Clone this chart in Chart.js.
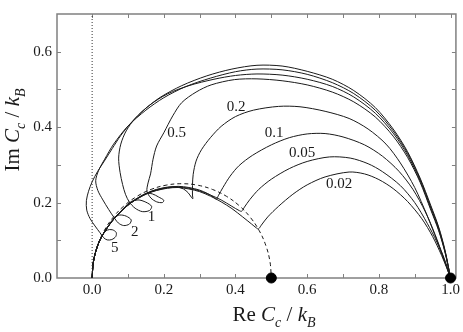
<!DOCTYPE html>
<html>
<head>
<meta charset="utf-8">
<script src="https://cdn.jsdelivr.net/npm/chart.js@4.4.0/dist/chart.umd.min.js"></script>
<style>
  html, body { margin: 0; padding: 0; background: #fff; }
  canvas { display: block; }
</style>
</head>
<body>
<canvas id="ccChart" width="463" height="332"></canvas>
<script>
// ----------------- Data -----------------
const xTickValues = [0.0, 0.2, 0.4, 0.6, 0.8, 1.0];
const yTickValues = [0.0, 0.2, 0.4, 0.6];
const xTickMarks = [0.0, 0.1, 0.2, 0.3, 0.4, 0.5, 0.6, 0.7, 0.8, 0.9, 1.0];
const yTickMarks = [0.1, 0.2, 0.3, 0.4, 0.5, 0.6];

const curveNames = ['5', '2', '1', '0.5', '0.2', '0.1', '0.05', '0.02'];

const curve5 = [[0,0],[0.003,0.04],[0.01,0.07],[0.02,0.097],[0.03,0.116],[0.042,0.127],[0.056,0.128],[0.067,0.121],[0.066,0.11],[0.055,0.102],[0.042,0.101],[0.032,0.107],[0.022,0.12],[0.008,0.138],[-0.006,0.158],[-0.015,0.18],[-0.016,0.205],[-0.01,0.23],[0.0,0.255],[0.015,0.282],[0.034,0.31],[0.056,0.343],[0.08,0.378],[0.11,0.413],[0.145,0.446],[0.19,0.479],[0.25,0.51],[0.32,0.536],[0.39,0.554],[0.46,0.564],[0.53,0.562],[0.6,0.548],[0.67,0.527],[0.73,0.497],[0.79,0.452],[0.84,0.395],[0.88,0.335],[0.915,0.265],[0.945,0.192],[0.967,0.135],[0.985,0.072],[1,0]];
const curve2 = [[0,0],[0.003,0.04],[0.01,0.07],[0.02,0.097],[0.033,0.12],[0.048,0.142],[0.062,0.16],[0.077,0.167],[0.095,0.164],[0.109,0.154],[0.104,0.143],[0.088,0.139],[0.073,0.146],[0.06,0.162],[0.046,0.182],[0.03,0.207],[0.016,0.232],[0.01,0.258],[0.018,0.285],[0.035,0.315],[0.06,0.355],[0.1,0.403],[0.15,0.445],[0.2,0.478],[0.26,0.507],[0.33,0.53],[0.4,0.547],[0.46,0.554],[0.53,0.552],[0.6,0.54],[0.67,0.518],[0.73,0.489],[0.79,0.445],[0.84,0.39],[0.88,0.331],[0.915,0.262],[0.945,0.188],[0.967,0.132],[0.985,0.07],[1,0]];
const curve1 = [[0,0],[0.003,0.04],[0.01,0.07],[0.02,0.097],[0.035,0.123],[0.055,0.15],[0.08,0.177],[0.105,0.2],[0.128,0.207],[0.15,0.201],[0.166,0.19],[0.16,0.179],[0.14,0.176],[0.12,0.185],[0.104,0.201],[0.093,0.222],[0.085,0.248],[0.078,0.28],[0.074,0.318],[0.08,0.355],[0.095,0.39],[0.12,0.423],[0.16,0.458],[0.21,0.488],[0.27,0.51],[0.34,0.527],[0.4,0.537],[0.46,0.541],[0.53,0.538],[0.6,0.527],[0.67,0.508],[0.73,0.48],[0.79,0.437],[0.84,0.384],[0.88,0.326],[0.915,0.258],[0.945,0.184],[0.967,0.128],[0.985,0.068],[1,0]];
const curve05 = [[0,0],[0.003,0.04],[0.01,0.07],[0.02,0.097],[0.035,0.123],[0.055,0.15],[0.08,0.177],[0.105,0.199],[0.13,0.214],[0.15,0.224],[0.168,0.223],[0.185,0.215],[0.2,0.206],[0.196,0.2],[0.18,0.202],[0.164,0.212],[0.153,0.23],[0.156,0.252],[0.163,0.276],[0.17,0.315],[0.18,0.35],[0.2,0.385],[0.225,0.43],[0.25,0.465],[0.29,0.493],[0.332,0.512],[0.397,0.526],[0.46,0.528],[0.53,0.523],[0.6,0.512],[0.67,0.493],[0.73,0.467],[0.79,0.427],[0.84,0.376],[0.88,0.32],[0.915,0.254],[0.945,0.18],[0.967,0.125],[0.985,0.066],[1,0]];
const curve02 = [[0,0],[0.003,0.04],[0.01,0.07],[0.02,0.097],[0.035,0.123],[0.055,0.15],[0.08,0.176],[0.105,0.197],[0.13,0.213],[0.155,0.226],[0.18,0.235],[0.21,0.241],[0.235,0.242],[0.255,0.236],[0.268,0.226],[0.277,0.214],[0.281,0.21],[0.28,0.22],[0.28,0.245],[0.282,0.275],[0.29,0.31],[0.305,0.34],[0.33,0.372],[0.36,0.402],[0.4,0.428],[0.45,0.445],[0.52,0.455],[0.58,0.454],[0.65,0.442],[0.717,0.423],[0.77,0.395],[0.82,0.355],[0.86,0.305],[0.9,0.24],[0.935,0.165],[0.962,0.1],[0.985,0.045],[1,0]];
const curve01 = [[0,0],[0.003,0.04],[0.01,0.07],[0.02,0.097],[0.035,0.123],[0.055,0.15],[0.08,0.176],[0.105,0.197],[0.13,0.213],[0.155,0.226],[0.18,0.234],[0.21,0.24],[0.24,0.243],[0.27,0.24],[0.3,0.233],[0.322,0.224],[0.338,0.215],[0.347,0.209],[0.352,0.218],[0.365,0.24],[0.385,0.27],[0.41,0.298],[0.447,0.325],[0.5,0.353],[0.55,0.372],[0.6,0.382],[0.65,0.383],[0.7,0.374],[0.76,0.353],[0.81,0.323],[0.856,0.283],[0.895,0.235],[0.93,0.175],[0.957,0.115],[0.978,0.06],[1,0]];
const curve005 = [[0,0],[0.003,0.04],[0.01,0.07],[0.02,0.097],[0.035,0.123],[0.055,0.15],[0.08,0.176],[0.105,0.197],[0.13,0.213],[0.155,0.225],[0.18,0.233],[0.21,0.239],[0.24,0.241],[0.27,0.238],[0.3,0.231],[0.33,0.22],[0.36,0.207],[0.39,0.19],[0.41,0.179],[0.417,0.177],[0.425,0.188],[0.44,0.208],[0.465,0.235],[0.5,0.262],[0.55,0.29],[0.6,0.309],[0.662,0.321],[0.72,0.318],[0.77,0.303],[0.81,0.282],[0.86,0.245],[0.9,0.2],[0.935,0.145],[0.962,0.095],[0.985,0.04],[1,0]];
const curve002 = [[0,0],[0.003,0.04],[0.01,0.07],[0.02,0.097],[0.035,0.123],[0.055,0.15],[0.08,0.176],[0.105,0.197],[0.13,0.212],[0.155,0.224],[0.18,0.232],[0.21,0.238],[0.24,0.24],[0.27,0.236],[0.3,0.229],[0.33,0.217],[0.36,0.202],[0.39,0.184],[0.42,0.162],[0.445,0.143],[0.458,0.133],[0.464,0.13],[0.472,0.14],[0.49,0.162],[0.52,0.19],[0.56,0.222],[0.6,0.247],[0.65,0.268],[0.717,0.281],[0.76,0.276],[0.8,0.261],[0.84,0.237],[0.88,0.203],[0.92,0.157],[0.95,0.11],[0.975,0.06],[0.99,0.025],[1,0]];

// small Debye semicircle (dashed) and its end points
const semicircle = [[0,0],[0.0038,0.0434],[0.0151,0.0855],[0.0335,0.125],[0.0585,0.1607],[0.0893,0.1915],[0.125,0.2165],[0.1645,0.2349],[0.2066,0.2462],[0.25,0.25],[0.2934,0.2462],[0.3355,0.2349],[0.375,0.2165],[0.4107,0.1915],[0.4415,0.1607],[0.4665,0.125],[0.4849,0.0855],[0.4962,0.0434],[0.5,0]];
const endPoints = [[0.5, 0], [1.0, 0]];
const zeroLine = [[0, 0], [0, 0.7]];

// where the curve values are written (data coords)
const labelSpots = [[0.063,0.08],[0.119,0.123],[0.166,0.161],[0.236,0.385],[0.402,0.454],[0.508,0.385],[0.586,0.332],[0.689,0.248]];

const allCurves = [curve5, curve2, curve1, curve05, curve02, curve01, curve005, curve002];

// ----------------- Helpers -----------------
const toXY = arr => arr.map(p => ({ x: p[0], y: p[1] }));
const SERIF = '"Liberation Serif", "DejaVu Serif", serif';
const INK = '#1a1a1a';
const FRAME = '#808080';

function drawRich(ctx, parts, big, small) {
  // parts: [text, italic, subscript]
  let w = 0;
  const widths = parts.map(p => {
    ctx.font = (p[1] ? 'italic ' : '') + (p[2] ? small : big) + 'px ' + SERIF;
    const m = ctx.measureText(p[0]).width;
    w += m;
    return m;
  });
  let x = -w / 2;
  parts.forEach((p, i) => {
    ctx.font = (p[1] ? 'italic ' : '') + (p[2] ? small : big) + 'px ' + SERIF;
    ctx.fillText(p[0], x, p[2] ? 6 : 0);
    x += widths[i];
  });
}

// ----------------- Plugins -----------------
const decorations = {
  id: 'decorations',
  beforeDatasetsDraw(chart) {
    const { ctx, chartArea: a, scales: { x, y } } = chart;
    ctx.save();
    // frame
    ctx.strokeStyle = FRAME;
    ctx.lineWidth = 1.5;
    ctx.strokeRect(a.left, a.top, a.right - a.left, a.bottom - a.top);
    // inward ticks on all sides
    ctx.lineWidth = 1;
    ctx.beginPath();
    xTickMarks.forEach(v => {
      const px = Math.round(x.getPixelForValue(v)) + 0.5;
      ctx.moveTo(px, a.bottom); ctx.lineTo(px, a.bottom - 4);
      ctx.moveTo(px, a.top); ctx.lineTo(px, a.top + 4);
    });
    yTickMarks.forEach(v => {
      const py = Math.round(y.getPixelForValue(v)) + 0.5;
      ctx.moveTo(a.left, py); ctx.lineTo(a.left + 4, py);
      ctx.moveTo(a.right, py); ctx.lineTo(a.right - 4, py);
    });
    ctx.stroke();
    ctx.restore();
  },
  afterDatasetsDraw(chart) {
    const { ctx, scales: { x, y } } = chart;
    ctx.save();
    ctx.fillStyle = INK;
    ctx.font = '15px ' + SERIF;
    ctx.textAlign = 'center';
    ctx.textBaseline = 'middle';
    curveNames.forEach((name, i) => {
      ctx.fillText(name, x.getPixelForValue(labelSpots[i][0]), y.getPixelForValue(labelSpots[i][1]));
    });

    // axis titles
    ctx.textBaseline = 'alphabetic';
    ctx.textAlign = 'left';
    ctx.save();
    ctx.translate(274, 321);
    drawRich(ctx, [['Re ', false, false], ['C', true, false], ['c', true, true], [' / ', false, false], ['k', true, false], ['B', true, true]], 21, 14);
    ctx.restore();
    ctx.save();
    ctx.translate(19, 130);
    ctx.rotate(-Math.PI / 2);
    drawRich(ctx, [['Im ', false, false], ['C', true, false], ['c', true, true], [' / ', false, false], ['k', true, false], ['B', true, true]], 21, 14);
    ctx.restore();
    ctx.restore();
  }
};

// ----------------- Chart Setup -----------------
const lineSets = allCurves.map((c, i) => ({
  label: curveNames[i],
  data: toXY(c),
  showLine: true,
  borderColor: INK,
  borderWidth: 1,
  pointRadius: 0,
  tension: 0.3,
  fill: false
}));

const ctx = document.getElementById('ccChart').getContext('2d');
const ccChart = new Chart(ctx, {
  type: 'scatter',
  data: {
    datasets: [
      {
        label: 'limits',
        data: toXY(endPoints),
        pointRadius: 5,
        pointBackgroundColor: '#000',
        pointBorderColor: '#000',
        showLine: false,
        clip: false
      },
      {
        label: 'semicircle',
        data: toXY(semicircle),
        showLine: true,
        borderColor: INK,
        borderWidth: 1,
        borderDash: [4, 3],
        pointRadius: 0,
        tension: 0.4
      },
      {
        label: 'zero',
        data: toXY(zeroLine),
        showLine: true,
        borderColor: '#333',
        borderWidth: 1,
        borderDash: [1, 2],
        pointRadius: 0
      },
      ...lineSets
    ]
  },
  options: {
    responsive: false,
    animation: false,
    devicePixelRatio: 1,
    layout: { padding: { top: 2, right: 6, left: 0, bottom: 0 } },
    plugins: {
      legend: { display: false },
      tooltip: { enabled: false }
    },
    scales: {
      x: {
        type: 'linear',
        min: -0.098,
        max: 1.015,
        afterBuildTicks: s => { s.ticks = xTickValues.map(v => ({ value: v })); },
        afterFit: s => { s.height = 54; },
        grid: { display: false, drawTicks: false },
        border: { display: false },
        ticks: {
          color: INK,
          font: { family: SERIF, size: 15 },
          padding: 3,
          maxRotation: 0,
          callback: v => v.toFixed(1)
        }
      },
      y: {
        type: 'linear',
        min: 0,
        max: 0.7,
        afterBuildTicks: s => { s.ticks = yTickValues.map(v => ({ value: v })); },
        afterFit: s => { s.width = 57; },
        grid: { display: false, drawTicks: false },
        border: { display: false },
        ticks: {
          color: INK,
          font: { family: SERIF, size: 15 },
          padding: 5,
          callback: v => v.toFixed(1)
        }
      }
    }
  },
  plugins: [decorations]
});
</script>
</body>
</html>
